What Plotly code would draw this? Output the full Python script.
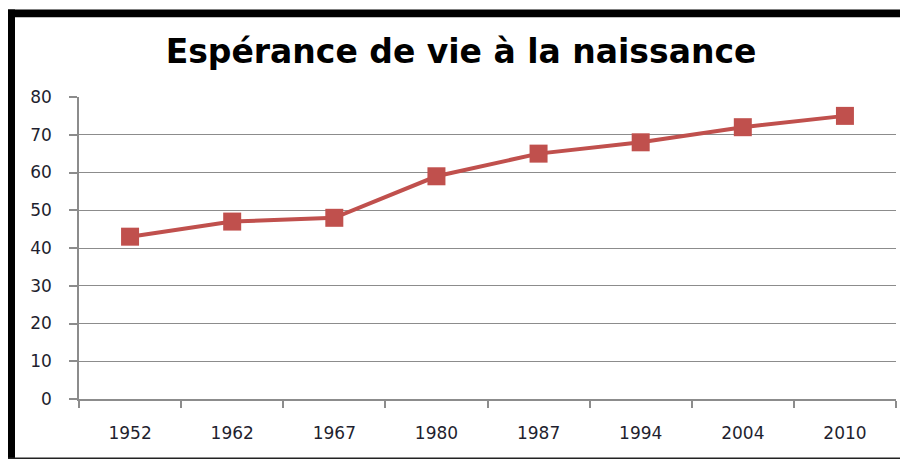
import plotly.graph_objects as go

years = ["1952", "1962", "1967", "1980", "1987", "1994", "2004", "2010"]
life_expectancy = [43, 47, 48, 59, 65, 68, 72, 75]
y_ticks = [0, 10, 20, 30, 40, 50, 60, 70, 80]

# the page body has an 8px margin, so the figure is drawn at offset (8, 8)
OFF = 8
W, H = 900, 452
L, R, T, B = 79 - OFF, 12, 97 - OFF, 61
PW, PH = W - L - R, H - T - B


def px_x(x):
    return (x - OFF - L) / PW


def px_y(y):
    return (H - B - (y - OFF)) / PH


fig = go.Figure()
fig.add_trace(go.Scatter(
    x=years, y=life_expectancy, mode="lines+markers",
    line=dict(color="#C0504D", width=4),
    marker=dict(symbol="square", size=18, color="#C0504D"),
    showlegend=False, hoverinfo="x+y",
))

shapes = [
    dict(type="rect", xref="paper", yref="paper",
         x0=px_x(7), x1=px_x(15), y0=px_y(459), y1=px_y(9.5),
         fillcolor="black", line=dict(width=0), layer="above"),
    dict(type="rect", xref="paper", yref="paper",
         x0=px_x(7), x1=px_x(910), y0=px_y(17.3), y1=px_y(9.5),
         fillcolor="black", line=dict(width=0), layer="above"),
    dict(type="rect", xref="paper", yref="paper",
         x0=px_x(7), x1=px_x(910), y0=px_y(459), y1=px_y(457.5),
         fillcolor="#222222", line=dict(width=0), layer="above"),
]

fig.update_layout(
    width=W, height=H,
    margin=dict(l=L, r=R, t=T, b=B, pad=0),
    paper_bgcolor="white", plot_bgcolor="white",
    title=dict(text="Espérance de vie à la naissance",
               font=dict(family="DejaVu Sans", size=33, color="#000000", weight="bold"),
               x=(461 - OFF) / W, xanchor="center", y=1 - 43 / H, yanchor="middle",
               xref="container", yref="container"),
    shapes=shapes,
    font=dict(family="DejaVu Sans", size=17, color="#1F1F2F"),
)
fig.update_xaxes(
    type="category", range=[-0.5, 7.5],
    showgrid=False, showline=True, linecolor="#8C8C8C", linewidth=1.5,
    ticks="outside", tickson="boundaries", ticklen=7, tickcolor="#8C8C8C", tickwidth=1.5,
    ticklabelstandoff=18, fixedrange=True,
)
fig.update_yaxes(
    range=[0, 80], tickvals=y_ticks, ticktext=[str(v) for v in y_ticks],
    showgrid=True, gridcolor="#8C8C8C", gridwidth=1.3,
    showline=True, linecolor="#8C8C8C", linewidth=1.5,
    ticks="outside", ticklen=8, tickcolor="#8C8C8C", tickwidth=1.5,
    ticklabelstandoff=14, zeroline=False, fixedrange=True,
)

fig.write_html("out.html")
